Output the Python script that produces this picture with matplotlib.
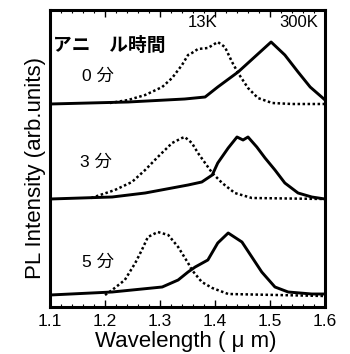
import matplotlib
matplotlib.use("Agg")
import matplotlib.pyplot as plt
from matplotlib.ticker import MultipleLocator

plt.rcParams['font.family'] = ['Liberation Sans', 'Noto Sans CJK JP', 'DejaVu Sans']

# ---- data (wavelength in um, intensity in arb. units above each baseline) ----
# 0 min anneal
wl_0_300K = [1.10, 1.242, 1.345, 1.382, 1.405, 1.442, 1.476, 1.502, 1.527, 1.551, 1.573, 1.596, 1.60]
int_0_300K = [0, 2, 5, 7, 17, 32, 49, 62, 49, 32, 17, 6, 4]
wl_0_13K = [1.209, 1.242, 1.273, 1.304, 1.322, 1.340, 1.351, 1.358, 1.369, 1.387, 1.405, 1.418,
            1.431, 1.442, 1.460, 1.478, 1.504, 1.540, 1.60]
int_0_13K = [1, 4, 9, 17, 26, 39, 49, 51, 55, 56, 62, 57, 42, 31, 16, 6, 1, 0, 0]

# 3 min anneal
wl_3_300K = [1.10, 1.213, 1.273, 1.351, 1.376, 1.395, 1.405, 1.424, 1.440, 1.451, 1.460, 1.476,
             1.491, 1.509, 1.527, 1.551, 1.576, 1.60]
int_3_300K = [0, 2, 6, 14, 17, 24, 36, 51, 62, 59, 62, 52, 41, 29, 16, 6, 2, 0]
wl_3_13K = [1.175, 1.218, 1.249, 1.273, 1.296, 1.322, 1.340, 1.345, 1.358, 1.369, 1.382, 1.395,
            1.413, 1.436, 1.467, 1.60]
int_3_13K = [1, 9, 17, 29, 42, 56, 61, 62, 56, 46, 36, 26, 16, 6, 1, 0]

# 5 min anneal
wl_5_300K = [1.10, 1.213, 1.304, 1.333, 1.351, 1.364, 1.387, 1.405, 1.424, 1.449, 1.467, 1.485,
             1.509, 1.533, 1.576, 1.60]
int_5_300K = [1, 4, 9, 16, 24, 29, 36, 53, 63, 54, 39, 24, 9, 4, 2, 2]
wl_5_13K = [1.200, 1.213, 1.236, 1.255, 1.267, 1.278, 1.296, 1.315, 1.333, 1.351, 1.358, 1.376,
            1.395, 1.424, 1.60]
int_5_13K = [1, 6, 16, 33, 46, 59, 64, 61, 49, 33, 26, 14, 8, 2, 0]

offsets = [192, 97, 0]
anneal_labels = ["0 分", "3 分", "5 分"]
x_ticks = [1.1, 1.2, 1.3, 1.4, 1.5, 1.6]

fig = plt.figure(figsize=(3.5, 3.54), dpi=100)
ax = fig.add_axes([50/350, 47/354, 275/350, 297/354])

series = [
    (wl_0_300K, int_0_300K, wl_0_13K, int_0_13K),
    (wl_3_300K, int_3_300K, wl_3_13K, int_3_13K),
    (wl_5_300K, int_5_300K, wl_5_13K, int_5_13K),
]
for (w3, i3, w1, i1), off in zip(series, offsets):
    ax.plot(w3, [v + off for v in i3], color='black', lw=2.1, solid_joinstyle='round')
    ax.plot(w1, [v + off for v in i1], color='black', lw=1.8, linestyle=(0, (1, 1.0)))

ax.set_xlim(1.1, 1.6)
ax.set_ylim(-11, 286)
ax.set_xticks(x_ticks)
ax.set_xticklabels([f"{t:.1f}" for t in x_ticks], fontsize=12.5)
ax.xaxis.set_minor_locator(MultipleLocator(0.02))
ax.set_yticks([])
ax.tick_params(axis='x', which='major', direction='in', length=5, width=1.0,
               top=True, bottom=True, pad=5)
ax.tick_params(axis='x', which='minor', direction='in', length=2.5, width=0.8,
               top=True, bottom=True)
for s in ax.spines.values():
    s.set_linewidth(2.2)

# annotations
ax.text(0.011, 0.882, "アニ\u3000ル時間", transform=ax.transAxes, fontsize=13.5,
        fontweight='bold', ha='left', va='center',
        family=['Noto Sans CJK JP'])
ypos = [0.778, 0.488, 0.152]
xpos = [0.116, 0.109, 0.116]
for lab, xp, yp in zip(anneal_labels, xpos, ypos):
    ax.text(xp, yp, lab, transform=ax.transAxes, fontsize=12.5, ha='left', va='center',
            family=['Liberation Sans', 'Noto Sans CJK JP'])
ax.text(0.556, 0.958, "13K", transform=ax.transAxes, fontsize=12, ha='center', va='center')
ax.text(0.905, 0.958, "300K", transform=ax.transAxes, fontsize=12, ha='center', va='center')

fig.text(36/350, (354-168)/354, "PL Intensity (arb.units)", rotation=90,
         ha='center', va='center', fontsize=16)
fig.text(186/350, 7/354, "Wavelength ( \u03bc m)", ha='center', va='baseline', fontsize=16)

fig.savefig("out.png", dpi=100)
